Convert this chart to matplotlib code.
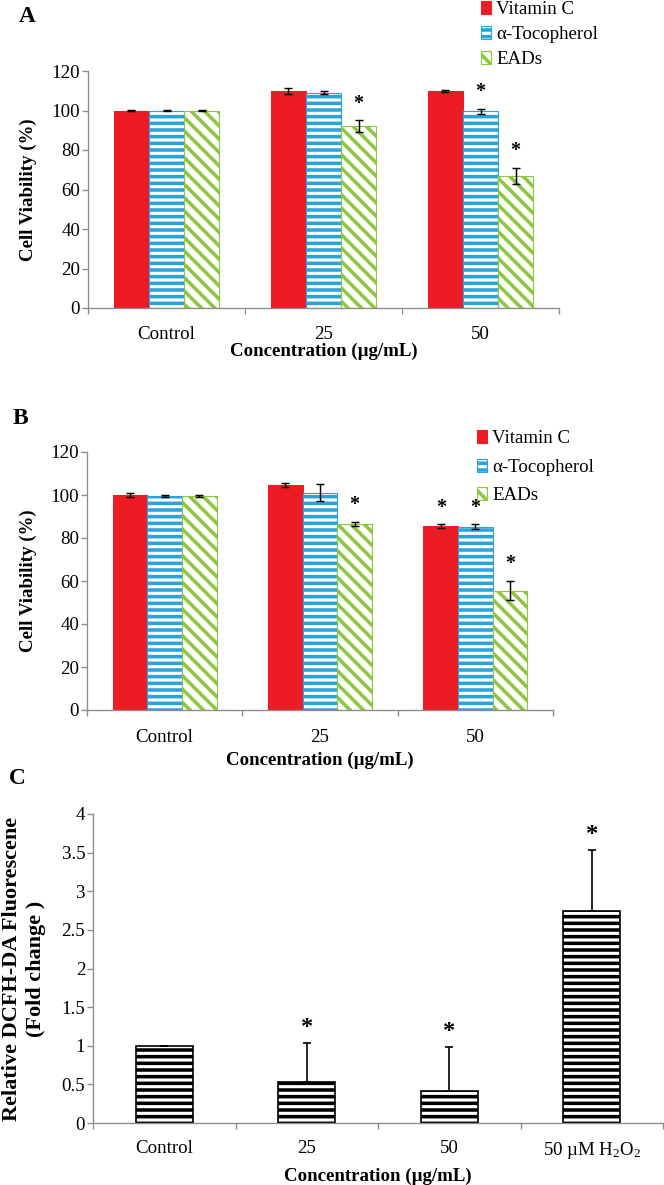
import matplotlib
matplotlib.use("Agg")
import matplotlib.pyplot as plt
import matplotlib.transforms as mtransforms
import numpy as np

# ---- data ----
groups = ["Control", "25", "50"]
series = ["Vitamin C", "α-Tocopherol", "EADs"]

a_vitc = [100.0, 110.0, 110.0]
a_vitc_err = [0.5, 1.5, 0.5]
a_toco = [100.0, 109.0, 99.5]
a_toco_err = [0.5, 0.7, 1.2]
a_eads = [100.0, 92.0, 67.0]
a_eads_err = [0.5, 3.0, 4.0]
a_vitc_sig = [False, False, False]
a_toco_sig = [False, False, True]
a_eads_sig = [False, True, True]

b_vitc = [100.0, 104.5, 85.5]
b_vitc_err = [1.0, 1.0, 0.8]
b_toco = [99.5, 101.0, 85.2]
b_toco_err = [0.5, 4.0, 1.1]
b_eads = [99.5, 86.5, 55.5]
b_eads_err = [0.5, 1.0, 4.5]
b_vitc_sig = [False, False, True]
b_toco_sig = [False, False, True]
b_eads_sig = [False, True, True]

c_labels = ["Control", "25", "50", "50 µM H$_2$O$_2$"]
c_vals = [1.0, 0.53, 0.41, 2.75]
c_err = [0.0, 0.51, 0.58, 0.79]
c_sig = [False, True, True, True]

RED = "#ED1C24"
BLUE = "#2AA3DD"
GREEN = "#8DC63F"
GREY = "#8C8C8C"

DPI = 80
W, H = 664, 1185

plt.rcParams["font.family"] = ["Liberation Serif", "DejaVu Serif"]
plt.rcParams["mathtext.fontset"] = "custom"
plt.rcParams["mathtext.rm"] = "Liberation Serif"
plt.rcParams["mathtext.it"] = "Liberation Serif:italic"
plt.rcParams["mathtext.bf"] = "Liberation Serif:bold"
plt.rcParams["hatch.linewidth"] = 3.2

fig = plt.figure(figsize=(W / DPI, H / DPI), dpi=DPI)


def px_axes(left, right, top, bottom):
    return fig.add_axes([left / W, 1 - bottom / H, (right - left) / W, (bottom - top) / H])


def style_axes(ax, ncat, xpad):
    for s in ["top", "right"]:
        ax.spines[s].set_visible(False)
    for s in ["left", "bottom"]:
        ax.spines[s].set_color(GREY)
        ax.spines[s].set_linewidth(1.2)
    ax.set_xlim(-0.5, ncat - 0.5)
    ax.set_xticks(np.arange(ncat))
    ax.set_xticks(np.arange(ncat + 1) - 0.5, minor=True)
    ax.tick_params(axis="x", which="major", length=0, pad=xpad, labelsize=17)
    ax.tick_params(axis="x", which="minor", length=5, width=1.2, color=GREY, direction="out")
    ax.tick_params(axis="y", length=5, width=1.2, color=GREY, pad=2, labelsize=17)


def star(ax, x, top, size=18, off=6):
    ax.annotate("*", (x, top), xytext=(0, off), textcoords="offset points",
                ha="center", va="bottom", fontsize=size, fontweight="bold")


def grouped_panel(ax, vals, errs, sigs, xpad, lpad):
    x = np.arange(len(groups))
    w = 0.223
    styles = [dict(color=RED, edgecolor=RED),
              dict(color="white", edgecolor=BLUE, hatch="--"),
              dict(color="white", edgecolor=GREEN, hatch="\\\\")]
    handles = []
    for i, (v, e, sg, st) in enumerate(zip(vals, errs, sigs, styles)):
        xs = x + (i - 1) * w
        bars = ax.bar(xs, v, w, linewidth=1.0, label=series[i], **st)
        handles.append(bars)
        ax.errorbar(xs, v, yerr=e, fmt="none", ecolor="black", elinewidth=1.3,
                    capsize=3.5, capthick=1.3)
        for xi, vi, ei, si in zip(xs, v, e, sg):
            if si:
                star(ax, xi, vi + ei)
    style_axes(ax, len(groups), xpad)
    ax.set_xticklabels(groups)
    ax.set_ylim(0, 120)
    ax.set_yticks(np.arange(0, 121, 20))
    ax.set_xlabel("Concentration (µg/mL)", fontsize=17, fontweight="bold", labelpad=lpad)
    return handles


def ylabel(ax, xpx, text, size=17):
    tr = mtransforms.blended_transform_factory(fig.transFigure, ax.transAxes)
    ax.text(xpx / W, 0.5, text, transform=tr, rotation=90, ha="center", va="center",
            fontsize=size, fontweight="bold", linespacing=1.25)


# ---- panel A ----
axA = px_axes(88, 559, 71, 308)
hA = grouped_panel(axA, [a_vitc, a_toco, a_eads], [a_vitc_err, a_toco_err, a_eads_err],
                   [a_vitc_sig, a_toco_sig, a_eads_sig], xpad=16, lpad=0)
ylabel(axA, 28, "Cell Viability (%)")
fig.legend(hA, series, loc="upper left", bbox_to_anchor=(481 / W, 1 - 1 / H),
           frameon=False, fontsize=17, borderpad=0, borderaxespad=0,
           handlelength=0.55, handleheight=0.7, handletextpad=0.25, labelspacing=0.4)
fig.text(19 / W, 1 - 16 / H, "A", fontsize=21, fontweight="bold", va="center", ha="left")

# ---- panel B ----
axB = px_axes(87, 553, 452, 710)
hB = grouped_panel(axB, [b_vitc, b_toco, b_eads], [b_vitc_err, b_toco_err, b_eads_err],
                   [b_vitc_sig, b_toco_sig, b_eads_sig], xpad=17, lpad=5)
ylabel(axB, 28, "Cell Viability (%)")
fig.legend(hB, series, loc="upper left", bbox_to_anchor=(477 / W, 1 - 430 / H),
           frameon=False, fontsize=17, borderpad=0, borderaxespad=0,
           handlelength=0.55, handleheight=0.7, handletextpad=0.25, labelspacing=0.6)
fig.text(13 / W, 1 - 418 / H, "B", fontsize=21, fontweight="bold", va="center", ha="left")

# ---- panel C ----
axC = px_axes(93, 663, 814, 1123)
xc = np.arange(len(c_labels))
axC.bar(xc, c_vals, 0.4, color="white", edgecolor="black", hatch="--", linewidth=1.5)
axC.errorbar(xc, c_vals, yerr=[np.zeros(len(c_err)), c_err], fmt="none", ecolor="black",
             elinewidth=1.5, capsize=4, capthick=1.5)
for xi, vi, ei, si in zip(xc, c_vals, c_err, c_sig):
    if si:
        star(axC, xi, vi + ei, size=22, off=4)
style_axes(axC, len(c_labels), xpad=15)
axC.set_xticklabels(c_labels)
axC.set_ylim(0, 4)
axC.set_yticks(np.arange(0, 4.01, 0.5))
axC.set_yticklabels(["0", "0.5", "1", "1.5", "2", "2.5", "3", "3.5", "4"])
axC.set_xlabel("Concentration (µg/mL)", fontsize=17, fontweight="bold", labelpad=6)
ylabel(axC, 24, "Relative DCFH-DA Fluorescene\n(Fold change )", size=20)
fig.text(9 / W, 1 - 778 / H, "C", fontsize=21, fontweight="bold", va="center", ha="left")

fig.savefig("out.png", dpi=DPI)
